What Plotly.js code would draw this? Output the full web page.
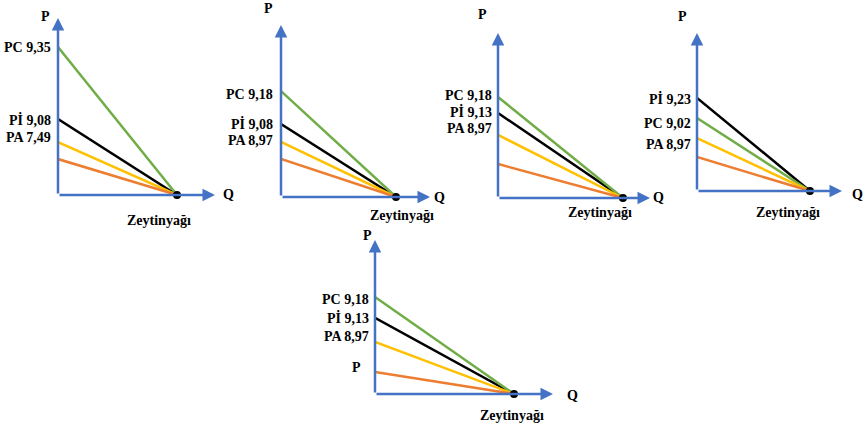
<!DOCTYPE html>
<html>
<head>
<meta charset="utf-8">
<script src="https://cdn.plot.ly/plotly-3.0.1.min.js"></script>
<style>html,body{margin:0;padding:0;background:#fff;}#chart{width:866px;height:430px;}</style>
</head>
<body>
<div id="chart"></div>
<script>
// ---- data (relative heights of the price intercepts and meeting quantity, per panel) ----
const panelIds = ['1', '2', '3', '4', '5'];
const greenHeights  = [0.836, 0.616, 0.612, 0.462, 0.630];
const blackHeights  = [0.429, 0.424, 0.515, 0.589, 0.494];
const yellowHeights = [0.299, 0.320, 0.382, 0.335, 0.338];
const orangeHeights = [0.203, 0.221, 0.206, 0.215, 0.143];
const meetQ = [0.758, 0.772, 0.822, 0.779, 0.781];
const greenLabels  = ['PC 9,35', 'PC 9,18', 'PC 9,18', 'PC 9,02', 'PC 9,18'];
const blackLabels  = ['Pİ 9,08', 'Pİ 9,08', 'Pİ 9,13', 'Pİ 9,23', 'Pİ 9,13'];
const yellowLabels = ['PA 7,49', 'PA 8,97', 'PA 8,97', 'PA 8,97', 'PA 8,97'];
const orangeLabels = ['', '', '', '', 'P'];
const yAxisName = 'P';
const xAxisName = 'Q';
const productName = 'Zeytinyağı';

// ---- layout / style ----
const W = 866, H = 430;
const colors = {green: '#70AD47', black: '#000000', yellow: '#FFC000', orange: '#ED7D31', axis: '#4472C4'};
// pixel boxes: origin x, origin y, top tip y, right tip x
const boxes = [
  {ox: 58,  oy: 195, ty: 18,  rx: 215},
  {ox: 281, oy: 197, ty: 25,  rx: 430},
  {ox: 498, oy: 198, ty: 33,  rx: 650},
  {ox: 697, oy: 191, ty: 33,  rx: 842},
  {ox: 375, oy: 394, ty: 240, rx: 553}
];
const pLabelPos = [[45, 16], [268, 9], [483, 15], [682, 16], [367, 235]];
const qLabelPos = [[228, 195], [439, 197], [658, 197], [857, 195], [572, 395]];
const prodLabelPos = [[159, 220], [402, 215], [600, 212], [788, 212], [512, 415]];
// label y-shifts (px) relative to their line start: green, black, yellow, orange
const labelShift = [
  [0, -1, 5, 0],
  [-3, 0, 1, 0],
  [2, 1, 6, 0],
  [-5, -1, -6, 0],
  [-3, 0, 5, 4]
];
const labelXShift = [-6, -7, -5, -5, -5];
const fontBase = {family: 'Liberation Serif, Times New Roman, serif', size: 14, color: '#000'};

const traces = [];
const annotations = [];
const layout = {
  width: W, height: H,
  margin: {l: 0, r: 0, t: 0, b: 0},
  paper_bgcolor: '#fff', plot_bgcolor: 'rgba(0,0,0,0)',
  showlegend: false,
  annotations: annotations
};

panelIds.forEach((id, i) => {
  const b = boxes[i];
  const xa = i === 0 ? 'x' : 'x' + id;
  const ya = i === 0 ? 'y' : 'y' + id;
  const xKey = i === 0 ? 'xaxis' : 'xaxis' + id;
  const yKey = i === 0 ? 'yaxis' : 'yaxis' + id;
  const axisBase = {showgrid: false, zeroline: false, showline: false, showticklabels: false, ticks: '', fixedrange: true};
  layout[xKey] = Object.assign({}, axisBase, {domain: [b.ox / W, b.rx / W], range: [0, 1], anchor: ya});
  layout[yKey] = Object.assign({}, axisBase, {domain: [1 - b.oy / H, 1 - b.ty / H], range: [0, 1], anchor: xa});

  // axes with arrows
  annotations.push({xref: xa, yref: ya, axref: xa, ayref: ya, x: 0, y: 1, ax: 0, ay: 0, text: '',
    showarrow: true, arrowhead: 2, arrowsize: 1, arrowwidth: 2.5, arrowcolor: colors.axis, standoff: 0});
  annotations.push({xref: xa, yref: ya, axref: xa, ayref: ya, x: 1, y: 0, ax: 0, ay: 0, text: '',
    showarrow: true, arrowhead: 2, arrowsize: 1, arrowwidth: 2.5, arrowcolor: colors.axis, standoff: 0});

  const series = [
    {h: blackHeights[i],  c: colors.black,  lab: blackLabels[i],  s: labelShift[i][1]},
    {h: greenHeights[i],  c: colors.green,  lab: greenLabels[i],  s: labelShift[i][0]},
    {h: yellowHeights[i], c: colors.yellow, lab: yellowLabels[i], s: labelShift[i][2]},
    {h: orangeHeights[i], c: colors.orange, lab: orangeLabels[i], s: labelShift[i][3]}
  ];
  series.forEach(sr => {
    traces.push({type: 'scatter', mode: 'lines', x: [0, meetQ[i]], y: [sr.h, 0], xaxis: xa, yaxis: ya,
      line: {color: sr.c, width: 2.5}, hoverinfo: 'skip', cliponaxis: false});
    if (sr.lab) {
      const isP = sr.lab === 'P';
      annotations.push({xref: xa, yref: ya, x: 0, y: sr.h, xanchor: 'right', yanchor: 'middle',
        xshift: isP ? -13 : labelXShift[i], yshift: sr.s, text: '<b>' + sr.lab + '</b>', showarrow: false,
        font: fontBase, borderpad: 0});
    }
  });
  // meeting dot
  traces.push({type: 'scatter', mode: 'markers', x: [meetQ[i]], y: [0], xaxis: xa, yaxis: ya,
    marker: {color: '#000', size: 8}, hoverinfo: 'skip', cliponaxis: false});

  const pp = (p) => ({x: p[0] / W, y: 1 - p[1] / H});
  [[pLabelPos[i], yAxisName], [qLabelPos[i], xAxisName], [prodLabelPos[i], productName]].forEach(([p, t]) => {
    const q = pp(p);
    annotations.push({xref: 'paper', yref: 'paper', x: q.x, y: q.y, xanchor: 'center', yanchor: 'middle',
      text: '<b>' + t + '</b>', showarrow: false, font: fontBase});
  });
});

Plotly.newPlot('chart', traces, layout, {staticPlot: true, displayModeBar: false});
</script>
</body>
</html>
